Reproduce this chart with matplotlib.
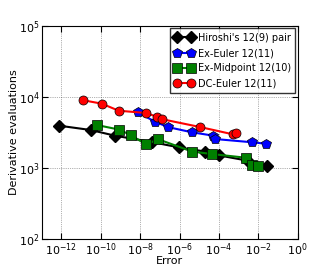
import matplotlib
matplotlib.use("Agg")
import matplotlib.pyplot as plt

hiroshi_err = [10**-12.12, 10**-10.51, 10**-9.28, 10**-7.41, 10**-6.01, 10**-4.71, 10**-3.98, 10**-2.59, 10**-1.54]
hiroshi_evals = [3945, 3427, 2851, 2322, 1945, 1707, 1500, 1276, 1067]

exeuler_err = [10**-8.12, 10**-7.25, 10**-6.57, 10**-5.38, 10**-4.28, 10**-4.20, 10**-2.30, 10**-1.62]
exeuler_evals = [6095, 4488, 3759, 3186, 2851, 2560, 2301, 2198]

exmid_err = [10**-10.21, 10**-9.09, 10**-8.48, 10**-7.70, 10**-7.08, 10**-5.37, 10**-4.37, 10**-2.64, 10**-2.33, 10**-2.0]
exmid_evals = [4036, 3483, 2916, 2143, 2536, 1707, 1574, 1396, 1094, 1067]

dceuler_err = [10**-10.89, 10**-9.95, 10**-9.09, 10**-7.70, 10**-7.16, 10**-6.87, 10**-4.96, 10**-3.30, 10**-3.13]
dceuler_evals = [8995, 8055, 6410, 5953, 5280, 4855, 3776, 2985, 3085]

labels = ["Hiroshi's 12(9) pair", "Ex-Euler 12(11)", "Ex-Midpoint 12(10)", "DC-Euler 12(11)"]

plt.rcParams["font.size"] = 8
plt.rcParams["xtick.direction"] = "in"
plt.rcParams["ytick.direction"] = "in"

fig = plt.figure(figsize=(3.32, 2.66), dpi=100)
ax = fig.add_axes([0.1256, 0.1015, 0.7711, 0.8008])

ax.loglog(hiroshi_err, hiroshi_evals, "-D", color="black", mec="black", ms=6.5, lw=1.5, label=labels[0])
ax.loglog(exeuler_err, exeuler_evals, "-p", color="blue", mec="black", mew=0.5, ms=7, lw=1.5, label=labels[1])
ax.loglog(exmid_err, exmid_evals, "-s", color="green", mec="black", mew=0.5, ms=6.5, lw=1.5, label=labels[2])
ax.loglog(dceuler_err, dceuler_evals, "-o", color="red", mec="black", mew=0.5, ms=6.5, lw=1.5, label=labels[3])

ax.set_xlim(1e-13, 1)
ax.set_ylim(1e2, 1e5)
ax.set_xticks([1e-12, 1e-10, 1e-8, 1e-6, 1e-4, 1e-2, 1])
ax.minorticks_off()
ax.grid(True, linestyle=":", color="black", linewidth=0.5, alpha=0.6)
ax.tick_params(length=4, top=True, right=True, labelsize=8, pad=1.5)
ax.set_xlabel("Error", labelpad=-1)
ax.set_ylabel("Derivative evaluations", labelpad=0)

leg = ax.legend(loc="upper right", numpoints=2, fontsize=7, fancybox=False,
                borderaxespad=0.25, handlelength=2.0, handletextpad=0.4,
                labelspacing=0.55, borderpad=0.45)
leg.get_frame().set_edgecolor("black")

fig.savefig("out.png", dpi=100)
